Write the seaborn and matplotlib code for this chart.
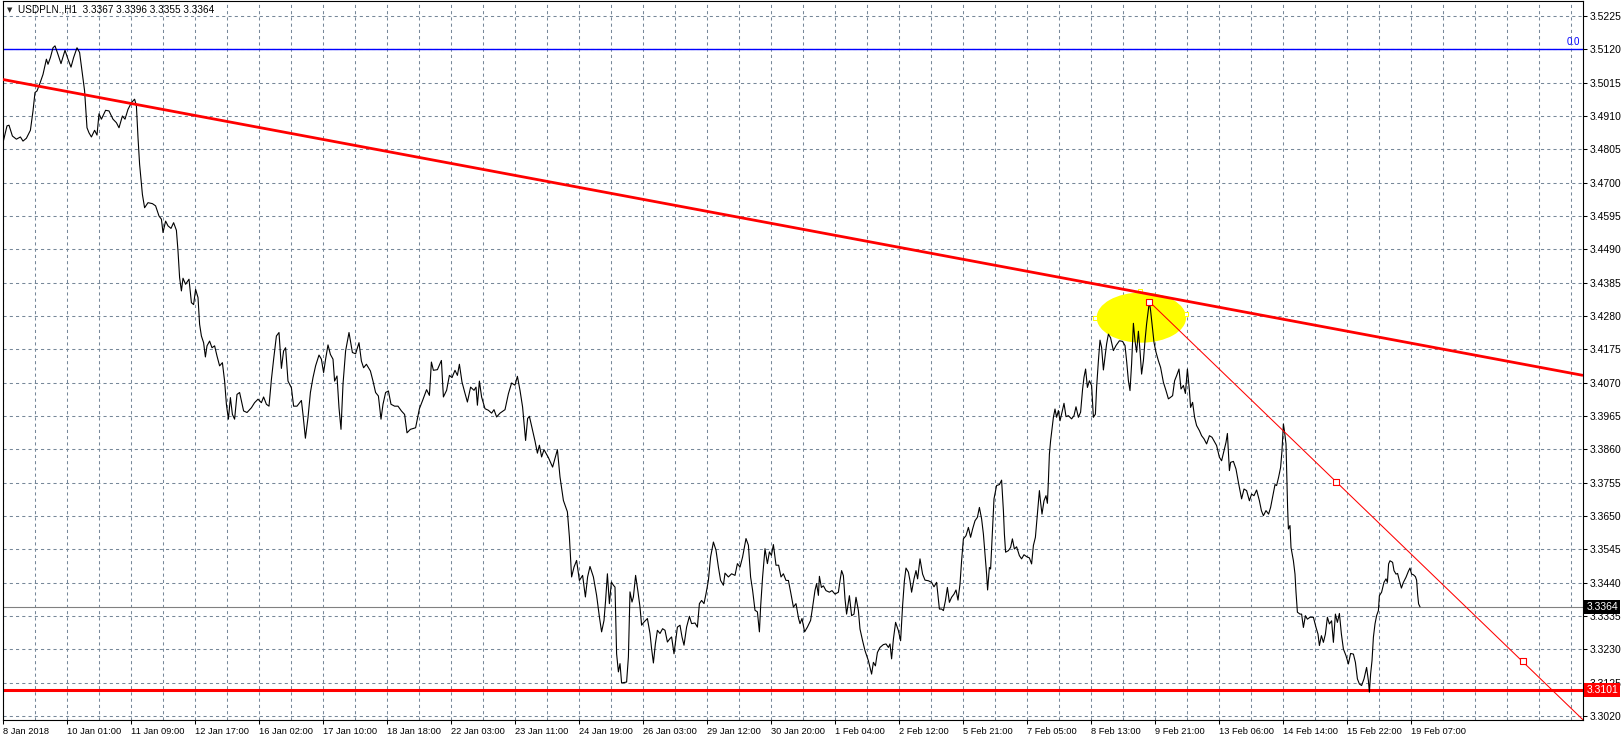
import matplotlib
matplotlib.use("Agg")
import matplotlib.pyplot as plt
from matplotlib.patches import Ellipse
import seaborn as sns

# ---- values (x = hourly bar count from 8 Jan 2018) ----
bar_no = [
    0, 2, 3, 4.7, 6.7, 8.7, 10, 11.7, 13.7, 15, 16, 17, 18.3, 20, 21.7, 22.5, 23.7, 25, 26, 27.5,
    29, 31, 32.5, 34, 35.3, 37, 38.3, 39.7, 40.8, 42, 43, 44.2, 45.8, 47, 48, 49.2, 51.3, 53, 55, 56.7,
    58, 59.7, 61, 62.5, 64.2, 65.8, 66.7, 67.5, 68.3, 69.7, 70.8, 72.5, 74.7, 76.3, 78, 79.2, 80, 81.3,
    82.5, 84, 85.3, 86.7, 87.5, 88.3, 89.2, 90, 91.3, 93, 94.2, 95.3, 96.3, 97.5, 98.3, 99.2, 100.3,
    101.2, 102, 103.3, 104.5, 105.8, 107, 108.3, 109.7, 110.8, 111.7, 112.7, 113.7, 114.7, 115.8, 117,
    118.3, 120.3, 122, 124.2, 125.8, 127.5, 129.2, 130.3, 131.7, 133, 134.2, 135.3, 136.7, 138, 139.2,
    140.3, 141.3, 142.5, 144.2, 145.3, 147, 149.2, 150, 151.2, 152.5, 153.7, 155, 156.3, 158, 159.2,
    160.3, 161.3, 162.5, 163.7, 165, 165.8, 167, 168, 169, 170, 171.3, 173, 174.7, 176.3, 178, 179.2,
    180.3, 181.7, 183.7, 185, 186.3, 187.7, 189, 190, 191.3, 192.7, 194, 195.8, 197.5, 199.2, 200.8,
    202, 203.7, 206.3,
    208.2, 209.8, 211.8, 213.2, 214.2, 215.2, 217.2, 219.2, 220.2, 221.8, 223.2, 224.5, 226, 227.2,
    228.2, 229.5, 230.8, 232.2, 233.8, 235.5, 236.5, 237.2, 238.2, 239.3, 241, 242.7, 244.3, 245.5,
    246.8, 248.5, 251, 252.7, 254.3, 256, 257.2, 258.5, 259.8, 261.3, 262.3, 263.2, 264.8, 266, 267.2,
    268.2, 269.3, 270.5, 272.7, 274.8, 276, 277.2, 278.5, 280.2, 282.2, 283.2, 284.3, 285.5, 286.8,
    288.2, 289.8, 291.2, 292.3, 293.5, 295.2, 296.8, 298.2, 299.3, 300.5, 301.3, 302.2, 303.2, 304.2,
    305.2, 306, 306.8, 307.7, 308.5, 309.3, 311.8, 312.7, 313.5, 314.5, 315.2, 316.3, 317.5, 318.5,
    319.3, 320.5, 322.2, 323.5, 324.3, 325.2, 326.2, 327.2, 328.5, 329.8, 331, 332.2, 333.5, 334.3,
    335.5, 337.2, 338.5, 339.5, 340.5, 341.8, 343.2, 344.3, 346, 347.2, 348.2, 349.3, 350.5, 351.5,
    352.7, 353.8, 355.2, 356.5, 357.7, 358.8, 360.2, 361, 362.7, 364.3, 366, 367.2, 368.5, 369.8,
    371.5, 372.7, 373.8, 374.8, 376, 377.2, 378.2, 378.8, 379.8, 381, 382.2, 383.2, 384.2, 385.2,
    386.5, 387.8, 389, 390.2, 391.5, 392.7, 393.8, 395.2, 396.5, 397.8, 398.5, 399.5, 400.8, 402.2,
    403.8, 404.8, 406, 406.8, 407.7, 408.2,
    409.2, 410.2, 411.5, 413.2, 414.5, 416, 417.7, 418.5, 419.3, 420.2, 421, 421.8, 423.2, 424.3,
    425.5, 426.5, 427.7, 428.5, 429.8, 431, 432.7, 433.5, 434.3, 435.2, 436.2, 437.2, 438.5, 440.2,
    441.5, 442.7, 443.5, 444.3, 445.2, 446.3, 447.7, 448.8, 449.8, 450.7, 451.5, 452.7, 453.5, 454.3,
    455.5, 456.5, 457.3, 458.5, 459.8, 461, 462.7, 464.3, 465.5, 466.8, 468.2, 469.3, 470.2, 471.2,
    472.2, 473.2, 474.3, 475.5, 476.5, 477.5, 478.5, 479.3, 480.2, 481.5, 482.7, 483.8, 484.8, 486,
    487.2, 488.2, 489.3, 490.2, 491, 491.8, 492.3, 493.2, 493.8, 494.5, 495.5, 496.8, 498.2, 499.3,
    500.2, 500.7, 501.3, 502.7, 503.8, 504.7, 505.7, 506.8, 508.2, 509.3, 510.5, 511.8, 513.2, 514.3,
    515.2, 516.2, 517.2, 518.2, 518.8, 519.5, 520.5, 521.5, 522.2, 522.7, 523.2, 523.8, 524.5, 525.2,
    526, 526.8, 527.7, 528.5, 529.3, 530.5, 531.5, 532.7, 534.3, 535.5, 536.5, 537.7, 538.8, 539.8,
    540.5, 541.3, 542.2, 543.2, 544.3, 545.2, 546.2, 546.8, 547.7, 548.5, 549.3, 550.2, 551, 551.8,
    552.7, 553.8, 555.2, 556.5, 558.2, 559.8, 561, 561.8, 562.7, 563.5, 564.3, 565.2, 566, 566.8,
    567.7, 568.5, 569.3, 570.2, 571, 571.8, 572.7, 573.2, 573.8, 574.5, 575.5, 576.5, 577.7, 578.8,
    580.2, 581.5, 582.7, 583.8, 584.8, 585.8, 586.8, 588, 589, 590.2, 591.2, 592.2, 593.2, 593.8,
    594.8, 595.8, 596.8, 598.2, 599.3, 600.5, 601.8, 603.2, 604.5, 605.5, 606.8, 608.2,
    609.3, 610.5, 611.5, 612.2, 613.2, 613.8, 615.2, 616.5, 617.7, 618.5, 619.3, 620.5, 621.8, 623.2,
    624.3, 625.5, 626.8, 628.2, 629.2, 630.2, 631.5, 632.8, 633.8, 634.8, 636, 636.8, 637.8, 638.8,
    639.5, 640.2, 640.8, 641.5, 641.8, 642.3, 642.7, 643.5, 644, 645.2, 646, 646.5, 647.2, 648.5,
    649.3, 650.2, 651.2, 652.2, 653.5, 655.2, 656.5, 657.5, 658.2, 659.2, 660.2, 661.2, 662.2, 663.2,
    664.3, 665.2, 666.2, 667.2, 668.2, 669.2, 670.2, 671.5, 672.7, 673.8, 675.2, 676.2, 677.2, 678.2,
    679.3, 680.5, 681.8, 682.7, 683.2, 683.8, 684.5, 685.2, 686, 686.8, 687.7, 688.2, 689.3, 690.5,
    691.5, 692.2, 692.8, 693.5, 694.8, 695.5, 696.5, 697.3, 698.2, 699.2, 700.2, 701.5, 702.7, 703.5,
    704.3, 705.2, 706.2, 706.8, 707.3, 707.8, 708.5,
]
close_px = [
    3.4826, 3.4879, 3.4881, 3.4847, 3.4837, 3.4844, 3.4831, 3.4840, 3.4865, 3.4926, 3.4984, 3.4989,
    3.5010, 3.5041, 3.5089, 3.5073, 3.5094, 3.5125, 3.5131, 3.5104, 3.5075, 3.5117, 3.5089, 3.5064,
    3.5094, 3.5125, 3.5110, 3.5041, 3.4989, 3.4873, 3.4857, 3.4844, 3.4865, 3.4850, 3.4917, 3.4900,
    3.4928, 3.4926, 3.4900, 3.4889, 3.4873, 3.4910, 3.4900, 3.4931, 3.4952, 3.4963, 3.4942, 3.4842,
    3.4758, 3.4663, 3.4621, 3.4637, 3.4634, 3.4627, 3.4595, 3.4585, 3.4543, 3.4579, 3.4564, 3.4556,
    3.4574, 3.4550, 3.4485, 3.4401, 3.4359, 3.4399, 3.4380, 3.4396, 3.4322, 3.4316, 3.4364, 3.4338,
    3.4254, 3.4217, 3.4196, 3.4151, 3.4186, 3.4201, 3.4180, 3.4186, 3.4154, 3.4123, 3.4133, 3.4075,
    3.4002, 3.3955, 3.4023, 3.3970, 3.3955, 3.4033, 3.4039, 3.3981, 3.3976, 3.3991, 3.4007, 3.4018,
    3.4007, 3.4025, 3.4002, 3.3996, 3.4080, 3.4143, 3.4217, 3.4228, 3.4115, 3.4170, 3.4180, 3.4075,
    3.4054, 3.3996, 3.3996, 3.4014, 3.3970, 3.3895, 3.3960, 3.4039, 3.4086, 3.4123, 3.4157, 3.4144,
    3.4102, 3.4144, 3.4189, 3.4159, 3.4144, 3.4075, 3.4091, 3.3991, 3.3923, 3.4065, 3.4170, 3.4228,
    3.4165, 3.4161, 3.4196, 3.4138, 3.4117, 3.4128, 3.4107, 3.4075, 3.4039, 3.4028, 3.3955, 3.4002,
    3.4039, 3.4044, 3.4002, 3.3996, 3.3996, 3.3981, 3.3970, 3.3912, 3.3923, 3.3928,
    3.3988, 3.4014, 3.4048, 3.4030, 3.4135, 3.4109, 3.4111, 3.4140, 3.4025, 3.4046, 3.4093, 3.4086,
    3.4109, 3.4093, 3.4128, 3.4072, 3.4041, 3.4009, 3.4056, 3.4046, 3.4056, 3.3999, 3.4075, 3.4025,
    3.3988, 3.3983, 3.3974, 3.3985, 3.3962, 3.3974, 3.3985, 3.4035, 3.4069, 3.4062, 3.4090, 3.4046,
    3.3993, 3.3888, 3.3957, 3.3964, 3.3920, 3.3886, 3.3848, 3.3873, 3.3836, 3.3859, 3.3834, 3.3804,
    3.3831, 3.3859, 3.3773, 3.3699, 3.3663, 3.3584, 3.3458, 3.3489, 3.3510, 3.3447, 3.3463, 3.3395,
    3.3458, 3.3491, 3.3458, 3.3400, 3.3332, 3.3285, 3.3321, 3.3384, 3.3468, 3.3374, 3.3442, 3.3432,
    3.3426, 3.3216, 3.3159, 3.3185, 3.3124, 3.3127, 3.3206, 3.3411, 3.3379, 3.3395, 3.3463, 3.3411,
    3.3363, 3.3306, 3.3316, 3.3327, 3.3280, 3.3232, 3.3187, 3.3248, 3.3290, 3.3280, 3.3295, 3.3290,
    3.3253, 3.3264, 3.3269, 3.3216, 3.3300, 3.3306, 3.3269, 3.3243, 3.3300, 3.3334, 3.3311, 3.3313,
    3.3300, 3.3374, 3.3384, 3.3374, 3.3405, 3.3447, 3.3521, 3.3568, 3.3542, 3.3489, 3.3447, 3.3432,
    3.3470, 3.3458, 3.3468, 3.3463, 3.3500, 3.3489, 3.3521, 3.3579, 3.3558, 3.3458, 3.3416, 3.3353,
    3.3348, 3.3285, 3.3363, 3.3458, 3.3547, 3.3500, 3.3537, 3.3526, 3.3560, 3.3495, 3.3495, 3.3458,
    3.3468, 3.3447, 3.3447, 3.3411, 3.3363, 3.3374, 3.3327, 3.3311, 3.3327, 3.3285, 3.3300, 3.3321,
    3.3363, 3.3416, 3.3437, 3.3400, 3.3460,
    3.3425, 3.3430, 3.3415, 3.3410, 3.3415, 3.3404, 3.3410, 3.3446, 3.3478, 3.3462, 3.3389, 3.3341,
    3.3399, 3.3336, 3.3341, 3.3394, 3.3352, 3.3294, 3.3257, 3.3226, 3.3194, 3.3173, 3.3152, 3.3189,
    3.3178, 3.3220, 3.3236, 3.3245, 3.3247, 3.3236, 3.3247, 3.3200, 3.3262, 3.3315, 3.3289, 3.3257,
    3.3368, 3.3446, 3.3486, 3.3473, 3.3446, 3.3410, 3.3452, 3.3478, 3.3452, 3.3515, 3.3467, 3.3448,
    3.3446, 3.3441, 3.3427, 3.3441, 3.3357, 3.3357, 3.3352, 3.3383, 3.3425, 3.3378, 3.3394, 3.3404,
    3.3417, 3.3385, 3.3436, 3.3509, 3.3578, 3.3588, 3.3614, 3.3583, 3.3609, 3.3635, 3.3646, 3.3677,
    3.3641, 3.3593, 3.3530, 3.3467, 3.3417, 3.3488, 3.3483, 3.3572, 3.3704, 3.3746, 3.3749, 3.3763,
    3.3667, 3.3593, 3.3536, 3.3541, 3.3551, 3.3578, 3.3546, 3.3553, 3.3525, 3.3515, 3.3528, 3.3522,
    3.3518, 3.3499, 3.3557, 3.3583, 3.3656, 3.3730, 3.3693, 3.3656, 3.3698, 3.3714, 3.3690, 3.3761,
    3.3845, 3.3887, 3.3924, 3.3961, 3.3987, 3.3961, 3.3982, 3.3950, 3.3971, 3.4005, 3.3963, 3.3966,
    3.3956, 3.3966, 3.3994, 3.3961, 3.3977, 3.4050, 3.4087, 3.4113, 3.4055, 3.4076, 3.4061, 3.3961,
    3.3971, 3.4055, 3.4139, 3.4204, 3.4181, 3.4110, 3.4150, 3.4192, 3.4223, 3.4211, 3.4171, 3.4187,
    3.4202, 3.4200, 3.4187, 3.4139, 3.4076, 3.4045, 3.4129, 3.4257, 3.4202, 3.4166, 3.4232, 3.4171,
    3.4097, 3.4139, 3.4202, 3.4255, 3.4302, 3.4326, 3.4297, 3.4255, 3.4197, 3.4166, 3.4139, 3.4118,
    3.4071, 3.4045, 3.4019, 3.4024, 3.4029, 3.4076, 3.4092, 3.4113, 3.4050, 3.4061, 3.4036, 3.4113,
    3.4045, 3.3992, 3.4008, 3.3961, 3.3935, 3.3919, 3.3903, 3.3893, 3.3877, 3.3903, 3.3898, 3.3887,
    3.3872, 3.3835,
    3.3824, 3.3856, 3.3882, 3.3910, 3.3793, 3.3819, 3.3822, 3.3798, 3.3756, 3.3730, 3.3704, 3.3735,
    3.3730, 3.3698, 3.3719, 3.3714, 3.3732, 3.3698, 3.3667, 3.3651, 3.3667, 3.3656, 3.3677, 3.3709,
    3.3749, 3.3746, 3.3772, 3.3803, 3.3856, 3.3940, 3.3914, 3.3877, 3.3803, 3.3677, 3.3609, 3.3620,
    3.3551, 3.3509, 3.3467, 3.3410, 3.3347, 3.3341, 3.3341, 3.3299, 3.3336, 3.3325, 3.3331, 3.3331,
    3.3299, 3.3278, 3.3242, 3.3273, 3.3252, 3.3278, 3.3331, 3.3310, 3.3320, 3.3252, 3.3341, 3.3315,
    3.3343, 3.3278, 3.3231, 3.3210, 3.3184, 3.3217, 3.3215, 3.3189, 3.3137, 3.3121, 3.3116, 3.3137,
    3.3173, 3.3131, 3.3095, 3.3152, 3.3194, 3.3268, 3.3310, 3.3336, 3.3352, 3.3399, 3.3410, 3.3441,
    3.3452, 3.3441, 3.3499, 3.3509, 3.3504, 3.3478, 3.3467, 3.3469, 3.3446, 3.3423, 3.3441, 3.3457,
    3.3476, 3.3486, 3.3467, 3.3465, 3.3459, 3.3448, 3.3404, 3.3373, 3.3364,
]

date_labels = [
    "8 Jan 2018", "10 Jan 01:00", "11 Jan 09:00", "12 Jan 17:00", "16 Jan 02:00", "17 Jan 10:00",
    "18 Jan 18:00", "22 Jan 03:00", "23 Jan 11:00", "24 Jan 19:00", "26 Jan 03:00", "29 Jan 12:00",
    "30 Jan 20:00", "1 Feb 04:00", "2 Feb 12:00", "5 Feb 21:00", "7 Feb 05:00", "8 Feb 13:00",
    "9 Feb 21:00", "13 Feb 06:00", "14 Feb 14:00", "15 Feb 22:00", "19 Feb 07:00",
]
price_ticks = [
    3.3020, 3.3125, 3.3230, 3.3335, 3.3440, 3.3545, 3.3650, 3.3755, 3.3860, 3.3965, 3.4070,
    3.4175, 3.4280, 3.4385, 3.4490, 3.4595, 3.4700, 3.4805, 3.4910, 3.5015, 3.5120, 3.5225,
]

header = "USDPLN.,H1  3.3367 3.3396 3.3355 3.3364"
last_price = 3.3364
support_level = 3.3101
fibo_level = 3.5122

# drawn objects (anchor points)
resist_x = [0, 790]
resist_y = [3.5025, 3.4093]
fall_x = [573.2, 790]
fall_y = [3.4325, 3.3008]
fall_handle_x = [573.2, 666.7, 760.2]
fall_handle_y = [3.4325, 3.3757, 3.3192]
oval_center = (569.2, 3.4275)
oval_w, oval_h = 44.7, 0.0158
oval_handle_x = [546.0, 568.5, 591.5]
oval_handle_y = [3.4273, 3.4360, 3.4286]

GRID = "#778899"

sns.set_style("white")
plt.rcParams["font.family"] = ["Liberation Sans", "DejaVu Sans"]

fig = plt.figure(figsize=(16.23, 7.41), dpi=100)
ax = fig.add_axes([3 / 1623, 21 / 741, 1580 / 1623, 719 / 741])

# yellow oval behind the lines
ax.add_patch(Ellipse(oval_center, oval_w, oval_h, facecolor="#ffff00", edgecolor="none", zorder=1.5))
ax.scatter(oval_handle_x, oval_handle_y, marker="s", s=9, facecolor="white",
           edgecolor="#ffff00", linewidths=0.7, zorder=1.6)

ax.axhline(last_price, color="#808080", lw=0.8, zorder=1.8)
ax.axhline(fibo_level, color="#0000ff", lw=1.0, zorder=2)
ax.axhline(support_level, color="#ff0000", lw=2.2, zorder=2)

sns.lineplot(x=bar_no, y=close_px, estimator=None, sort=False, color="black",
             linewidth=0.8, ax=ax, zorder=3)

ax.plot(resist_x, resist_y, color="#ff0000", lw=2.0, zorder=4, solid_capstyle="butt")
ax.plot(fall_x, fall_y, color="#ff0000", lw=0.75, zorder=4)
ax.scatter(fall_handle_x, fall_handle_y, marker="s", s=14, facecolor="white",
           edgecolor="#ff0000", linewidths=0.8, zorder=5)

ax.set_xlim(0, 790)
ax.set_ylim(3.30074, 3.52723)

# ticks and grid
ax.set_xticks([i * 32 for i in range(len(date_labels))])
ax.set_xticklabels(date_labels, ha="left", fontsize=6.7)
ax.set_xticks([i * 16 for i in range(1, 50)], minor=True)
ax.yaxis.tick_right()
ax.set_yticks(price_ticks)
ax.set_yticklabels([f"{v:.4f}" for v in price_ticks], fontsize=7.5)
ax.tick_params(axis="x", which="major", direction="out", length=3, width=0.75, pad=2,
               bottom=True, colors="black")
ax.tick_params(axis="x", which="minor", length=0)
ax.tick_params(axis="y", direction="out", length=3, width=0.75, pad=2, right=True,
               left=False, colors="black")
ax.grid(True, which="both", axis="x", color=GRID, lw=0.75, linestyle=(0, (3, 3)))
ax.grid(True, which="major", axis="y", color=GRID, lw=0.75, linestyle=(0, (3, 3)))
ax.set_axisbelow(True)
ax.set_xlabel("")
ax.set_ylabel("")
for sp in ax.spines.values():
    sp.set_visible(True)
    sp.set_color("black")
    sp.set_linewidth(0.8)

# price boxes on the right scale
for level, bg in [(last_price, "black"), (support_level, "#ff0000")]:
    ax.annotate(f"{level:.4f}", xy=(1, level), xycoords=("axes fraction", "data"),
                xytext=(2.5, 0), textcoords="offset points", va="center", ha="left",
                fontsize=7.5, color="white", clip_on=False, zorder=10,
                bbox=dict(boxstyle="square,pad=0.2", fc=bg, ec="none"))

ax.annotate("0.0", xy=(1, fibo_level), xycoords=("axes fraction", "data"),
            xytext=(-2, 1), textcoords="offset points", ha="right", va="bottom",
            fontsize=7, color="#0000ff")

fig.text(7 / 1623, 1 - 10 / 741, "▼", fontsize=5, va="center", family="DejaVu Sans")
fig.text(18 / 1623, 1 - 10 / 741, header, fontsize=7.2, va="center", color="black")

fig.savefig("out.png", dpi=100, facecolor="white")
